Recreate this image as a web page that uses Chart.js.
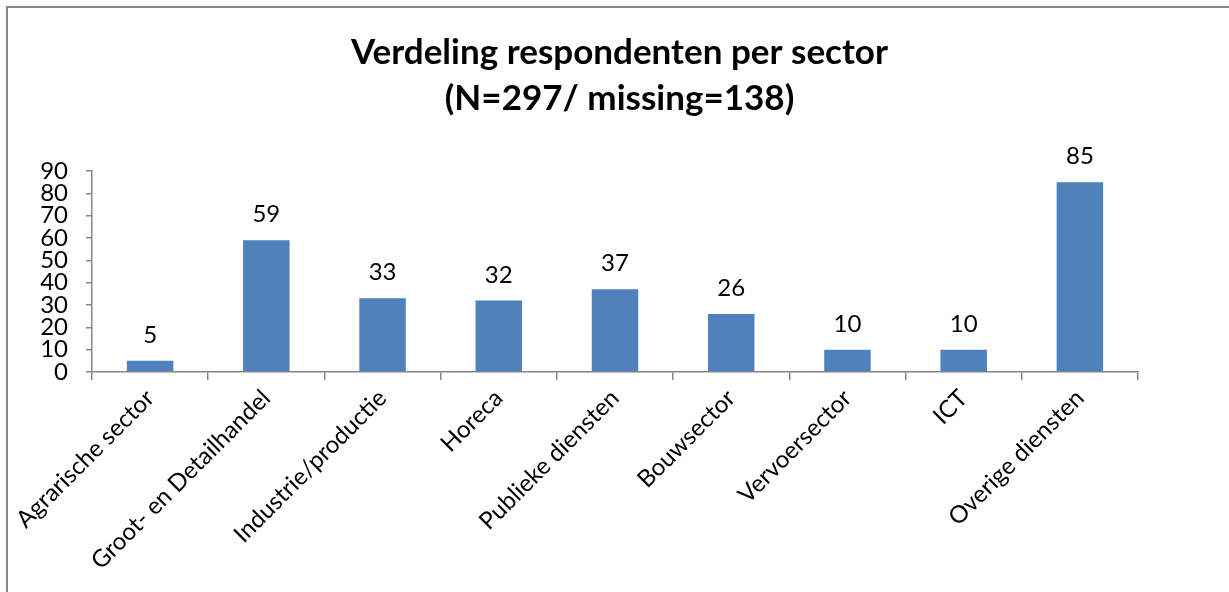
<!DOCTYPE html>
<html>
<head>
<meta charset="utf-8">
<script src="https://cdn.jsdelivr.net/npm/chart.js@4/dist/chart.umd.min.js"></script>
<style>
html,body{margin:0;padding:0;background:#fff;overflow:hidden;}
canvas{display:block;}
</style>
</head>
<body>
<canvas id="c" width="1229" height="592"></canvas>
<script>
const categories = ["Agrarische sector","Groot- en Detailhandel","Industrie/productie","Horeca","Publieke diensten","Bouwsector","Vervoersector","ICT","Overige diensten"];
const values = [5,59,33,32,37,26,10,10,85];
const titleLines = ["Verdeling respondenten per sector","(N=297/ missing=138)"];
const yTicks = [0,10,20,30,40,50,60,70,80,90];

const FONT = "Lato, 'Open Sans', sans-serif";
const AXIS = "#868686";

const framePlugin = {
  id: 'frame',
  beforeDraw(chart){
    const ctx = chart.ctx;
    ctx.save();
    ctx.fillStyle = '#fff';
    ctx.fillRect(0,0,chart.width,chart.height);
    ctx.strokeStyle = AXIS;
    ctx.lineWidth = 2;
    ctx.beginPath();
    ctx.moveTo(7, chart.height + 5);
    ctx.lineTo(7, 7);
    ctx.lineTo(chart.width + 5, 7);
    ctx.stroke();
    ctx.restore();
  }
};

const labelPlugin = {
  id: 'valueLabels',
  afterDatasetsDraw(chart){
    const ctx = chart.ctx;
    const meta = chart.getDatasetMeta(0);
    ctx.save();
    ctx.font = "24px " + FONT;
    ctx.fillStyle = "#000";
    ctx.textAlign = "center";
    ctx.textBaseline = "alphabetic";
    meta.data.forEach((bar, i) => {
      ctx.fillText(String(chart.data.datasets[0].data[i]), bar.x, bar.y - 18);
    });
    ctx.restore();
  }
};

new Chart(document.getElementById('c'), {
  type: 'bar',
  data: {
    labels: categories,
    datasets: [{
      data: values,
      backgroundColor: '#4F81BD',
      borderWidth: 0,
      categoryPercentage: 1.0,
      barPercentage: 0.4
    }]
  },
  options: {
    responsive: false,
    animation: false,
    devicePixelRatio: 1,
    layout: { padding: { left: 10, right: 0, top: 0, bottom: 0 } },
    plugins: {
      legend: { display: false },
      tooltip: { enabled: false },
      title: {
        display: true,
        text: titleLines,
        color: '#000',
        font: { family: FONT, size: 35, weight: 'bold', lineHeight: 1.3 },
        padding: { top: 30, bottom: 50 }
      }
    },
    scales: {
      x: {
        grid: { display: true, drawOnChartArea: false, offset: true, tickLength: 8, color: AXIS, lineWidth: 1.5 },
        border: { display: true, color: AXIS, width: 1.5 },
        ticks: { color: '#000', font: { family: FONT, size: 24 }, minRotation: 45, maxRotation: 45, autoSkip: false, padding: 4 },
        afterFit(scale){ scale.height = 220; }
      },
      y: {
        min: 0, max: 90,
        afterBuildTicks(scale){ scale.ticks = yTicks.map(v => ({value: v})); },
        grid: { display: true, drawOnChartArea: false, tickLength: 6, color: AXIS, lineWidth: 1.5 },
        border: { display: true, color: AXIS, width: 1.5 },
        ticks: { color: '#000', font: { family: FONT, size: 24, lineHeight: 1 }, padding: 18, autoSkip: false },
        afterFit(scale){ scale.width = 82; }
      },
      y2: {
        position: 'right',
        display: true,
        grid: { display: false },
        border: { display: false },
        ticks: { display: false },
        afterFit(scale){ scale.width = 91; }
      }
    }
  },
  plugins: [framePlugin, labelPlugin]
});
</script>
</body>
</html>
